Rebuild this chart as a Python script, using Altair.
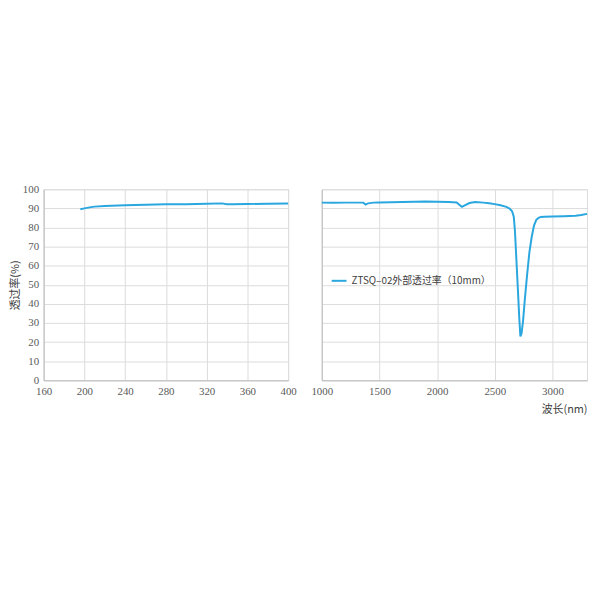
import altair as alt
import pandas as pd

series_name = "ZTSQ–02外部透过率（10mm）"

uv_wl = [196, 200, 205, 210, 220, 240, 260, 280, 300, 320, 335, 340, 345, 360, 380, 400]
uv_t = [89.5, 90.0, 90.5, 90.9, 91.2, 91.6, 91.9, 92.1, 92.2, 92.4, 92.6, 92.2, 92.1, 92.3, 92.4, 92.5]

ir_wl = [1000, 1100, 1200, 1300, 1360, 1380, 1400, 1450, 1500, 1600, 1700, 1800, 1900, 2000,
         2100, 2170, 2200, 2215, 2240, 2280, 2330, 2400, 2450, 2500, 2550, 2600, 2630, 2650,
         2665, 2675, 2685, 2700, 2712, 2722, 2732, 2745, 2760, 2780, 2800, 2820, 2840, 2860,
         2880, 2900, 2930, 3000, 3100, 3200, 3250, 3300]
ir_t = [93.0, 92.9, 93.0, 93.0, 93.0, 92.0, 92.6, 93.0, 93.1, 93.2, 93.3, 93.4, 93.6, 93.4,
        93.3, 93.1, 91.5, 90.8, 91.6, 92.8, 93.3, 93.0, 92.7, 92.2, 91.6, 90.8, 89.8, 88.5,
        85.5, 78.0, 66.0, 48.0, 33.0, 23.0, 24.5, 31.0, 42.0, 55.0, 67.0, 75.0, 81.0, 84.0,
        85.0, 85.5, 85.6, 85.7, 85.9, 86.1, 86.5, 87.1]

uv_ticks = [160, 200, 240, 280, 320, 360, 400]
ir_ticks = [1000, 1500, 2000, 2500, 3000]
y_ticks = list(range(0, 101, 10))

uv = pd.DataFrame({"wl": uv_wl, "t": uv_t, "s": series_name})
ir = pd.DataFrame({"wl": ir_wl, "t": ir_t, "s": series_name})

SERIF = "Liberation Serif"
CJK = "Noto Sans CJK SC"
LABEL_COLOR = "#595959"

color = alt.Color(
    "s:N",
    scale=alt.Scale(domain=[series_name], range=["#2aa7df"]),
    legend=alt.Legend(
        title=None, orient="none", legendX=290, legendY=84,
        symbolType="stroke", symbolSize=225, symbolStrokeWidth=2,
        labelFont=CJK, labelFontSize=10, labelColor="#404040",
    ),
)

left = alt.Chart(uv).mark_line(strokeWidth=2).encode(
    x=alt.X("wl:Q", scale=alt.Scale(domain=[160, 400], nice=False),
            axis=alt.Axis(values=uv_ticks, title=None, format="d", labelPadding=5)),
    y=alt.Y("t:Q", scale=alt.Scale(domain=[0, 100], nice=False),
            axis=alt.Axis(values=y_ticks, title="透过率(%)", titleFont=CJK,
                          titleFontSize=11, titleFontWeight="normal", titleColor="#404040",
                          titlePadding=2, format="d", labelPadding=5)),
    color=color,
).properties(width=247, height=193)

right = alt.Chart(ir).mark_line(strokeWidth=2).encode(
    x=alt.X("wl:Q", scale=alt.Scale(domain=[1000, 3300], nice=False),
            axis=alt.Axis(values=ir_ticks, title="波长(nm)", titleAnchor="end",
                          titleFont=CJK, titleFontSize=11, format="d", labelPadding=5,
                          titleFontWeight="normal", titleColor="#404040", titlePadding=8)),
    y=alt.Y("t:Q", scale=alt.Scale(domain=[0, 100], nice=False),
            axis=alt.Axis(values=y_ticks, labels=False, title=None)),
    color=color,
).properties(width=268, height=193)

chart = alt.hconcat(left, right, spacing=34, bounds="flush").properties(
    padding={"left": 1, "top": 174, "right": 0, "bottom": 0}
).configure(
    font=SERIF,
).configure_axis(
    ticks=False, tickSize=0, domainColor="#bfbfbf", gridColor="#dcdcdc",
    labelFont=SERIF, labelFontSize=11, labelColor=LABEL_COLOR, labelFlush=False,
).configure_view(stroke="#dcdcdc")

chart.save("out.html", embed_options={"renderer": "svg", "actions": False})
